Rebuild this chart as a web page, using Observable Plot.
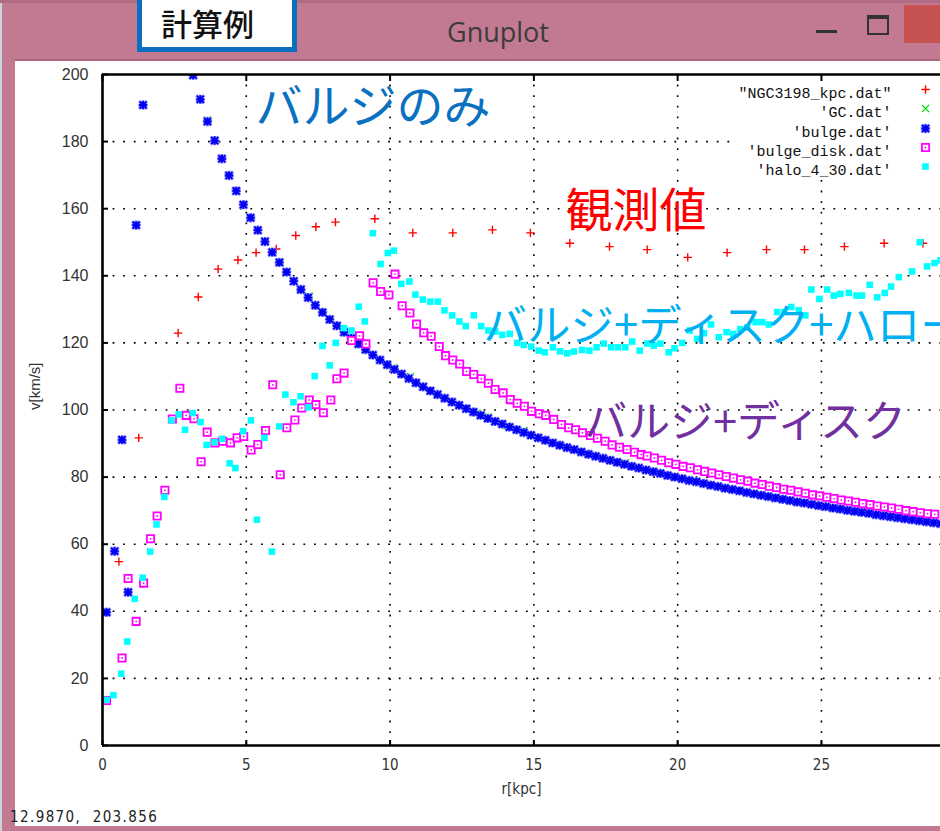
<!DOCTYPE html>
<html><head><meta charset="utf-8">
<script src="https://cdn.jsdelivr.net/npm/d3@7"></script>
<script src="https://cdn.jsdelivr.net/npm/@observablehq/plot@0.6"></script>
<style>
html,body{margin:0;padding:0;overflow:hidden;background:#c27a93;}
#win{position:relative;width:940px;height:831px;background:#c27a93;overflow:hidden;}
#edge{position:absolute;left:0;top:0;width:2px;height:831px;background:#c9d3de;}
#topline{position:absolute;left:0;top:0;width:940px;height:3px;background:#b06c85;}
#clientline{position:absolute;left:15px;top:59px;width:925px;height:2px;background:#a8667f;}
#client{position:absolute;left:15px;top:61px;width:925px;height:765px;background:#fff;}
#title{position:absolute;left:447px;top:14px;font:27px "Open Sans","Noto Sans",sans-serif;color:#3b3b3b;line-height:36px;}
#minb{position:absolute;left:816px;top:30px;width:21px;height:3px;background:#333;}
#maxb{position:absolute;left:867px;top:15px;width:18px;height:14px;border:2px solid #333;border-top-width:4px;}
#closeb{position:absolute;left:904px;top:5px;width:40px;height:38px;background:#c75252;}
#calc{position:absolute;left:137px;top:-8px;width:150px;height:50px;border:5px solid #0b6fbf;background:#fff;}
#calc span{position:absolute;left:19px;top:6px;font:31px "Noto Sans CJK JP",sans-serif;font-weight:500;color:#111;line-height:40px;white-space:nowrap;}
#status{position:absolute;left:10px;top:808px;font:15px "DejaVu Sans Condensed","DejaVu Sans",sans-serif;letter-spacing:1.4px;color:#222;white-space:pre;}
#plot{position:absolute;left:0;top:0;}
</style></head>
<body>
<div id="win">
  <div id="edge"></div>
  <div id="topline"></div>
  <div id="title">Gnuplot</div>
  <div id="minb"></div>
  <div id="maxb"></div>
  <div id="closeb"></div>
  <div id="clientline"></div>
  <div id="client"></div>
  <div id="calc"><span>計算例</span></div>
  <div id="status">12.9870,  203.856</div>
  <div id="plot"></div>
</div>
<script>
// ---------- data ----------
const xTicks = [0, 5, 10, 15, 20, 25];
const yTicks = [0, 20, 40, 60, 80, 100, 120, 140, 160, 180, 200];

const seriesNames = ['"NGC3198_kpc.dat"', "'GC.dat'", "'bulge.dat'", "'bulge_disk.dat'", "'halo_4_30.dat'"];

// NGC3198_kpc.dat (observed)
const obsR = [0.57,1.26,2.63,3.33,4.02,4.71,5.34,6.04,6.72,7.42,8.10,9.47,10.79,12.18,13.56,14.88,16.25,17.63,18.94,20.35,21.72,23.09,24.41,25.80,27.18,28.53];
const obsV = [54.8,91.7,122.9,133.7,142.0,144.7,146.9,148.0,152.0,154.6,156.0,157.0,152.8,152.8,153.7,152.8,149.7,148.7,147.8,145.5,146.9,147.8,147.8,148.7,149.7,149.7];

// GC.dat (mostly hidden under bulge points)
const gcR = [3.65,6.18,7.19,8.90,10.13,10.71,13.02,13.43,14.07,14.65,18.18];
const gcV = [186.4,143.9,133.9,120.2,112.6,110.0,99.1,97.9,95.3,93.9,84.2];

// bulge.dat
const bulgeR = [0.14,0.42,0.68,0.89,1.17,1.41,
  3.15,3.40,3.65,3.90,4.15,4.40,4.65,4.90,5.15,5.40,5.65,5.90,6.15,6.40,6.65,6.90,7.15,7.40,7.65,7.90,8.15,8.40,8.65,8.90,
  9.15,9.40,9.65,9.90,10.15,10.40,10.65,10.90,11.15,11.40,11.65,11.90,12.15,12.40,12.65,12.90,13.15,13.40,13.65,13.90,
  14.15,14.40,14.65,14.90,15.15,15.40,15.65,15.90,16.15,16.40,16.65,16.90,17.15,17.40,17.65,17.90,18.15,18.40,18.65,18.90,
  19.15,19.40,19.65,19.90,20.15,20.40,20.65,20.90,21.15,21.40,21.65,21.90,22.15,22.40,22.65,22.90,23.15,23.40,23.65,23.90,
  24.15,24.40,24.65,24.90,25.15,25.40,25.65,25.90,26.15,26.40,26.65,26.90,27.15,27.40,27.65,27.90,28.15,28.40,28.65,28.90,29.15];
const bulgeV = [39.7,57.9,91.1,45.7,155.1,190.9,
  199.8,192.6,186.0,180.3,174.9,169.9,165.3,161.2,157.3,153.6,150.2,147.0,144.0,141.1,138.4,135.9,133.5,131.2,129.1,127.0,125.1,123.2,121.4,119.7,
  118.0,116.4,114.9,113.5,112.1,110.7,109.4,108.1,106.9,105.7,104.6,103.5,102.4,101.4,100.4,99.4,98.4,97.5,96.6,95.8,
  94.9,94.1,93.3,92.5,91.7,91.0,90.2,89.5,88.8,88.2,87.5,86.8,86.2,85.6,85.0,84.4,83.8,83.2,82.7,82.1,
  81.6,81.1,80.5,80.0,79.5,79.0,78.6,78.1,77.6,77.2,76.7,76.3,75.9,75.4,75.0,74.6,74.2,73.8,73.4,73.0,
  72.6,72.3,71.9,71.5,71.2,70.8,70.5,70.1,69.8,69.5,69.2,68.8,68.5,68.2,67.9,67.6,67.3,67.0,66.7,66.4,66.1];

// bulge_disk.dat
const diskR = [0.14,0.68,0.89,1.17,1.43,1.67,1.90,2.17,2.43,2.69,2.91,3.18,3.43,3.64,3.91,4.18,4.45,4.68,4.91,5.17,
  5.40,5.67,5.92,6.18,6.41,6.69,6.93,7.19,7.42,7.68,7.94,8.15,8.40,8.66,8.94,9.16,9.41,9.67,9.96,10.17,
  10.42,10.69,10.92,11.17,11.43,11.71,11.93,12.18,12.42,12.66,12.91,13.17,13.42,13.65,13.93,14.18,14.42,14.67,14.92,15.19,
  15.41,15.69,15.96,16.21,16.45,16.69,16.97,17.21,17.48,17.72,17.98,18.24,18.50,18.73,18.94,19.19,
  19.44,19.69,19.94,20.19,20.44,20.69,20.94,21.19,21.44,21.69,21.94,22.19,22.44,22.69,22.94,23.19,23.44,23.69,23.94,24.19,
  24.44,24.69,24.94,25.19,25.44,25.69,25.94,26.19,26.44,26.69,26.94,27.19,27.44,27.69,27.94,28.19,28.44,28.69,28.94];
const diskV = [13.4,26.1,49.8,37.0,48.4,61.6,68.4,76.1,97.3,106.5,98.4,97.4,84.6,93.4,90.2,90.7,90.2,91.7,92.1,88.1,
  89.7,93.9,107.5,80.7,94.7,97.0,100.6,103.0,101.6,99.2,103.0,109.3,111.0,120.7,122.1,119.7,137.9,135.3,134.3,140.5,
  131.1,128.9,125.6,123.0,122.0,118.9,116.2,114.9,113.7,111.5,110.6,109.3,108.0,106.1,105.1,103.1,102.0,101.1,99.6,98.9,
  98.4,97.2,95.7,94.7,94.1,93.2,92.4,91.6,90.7,89.6,88.9,88.2,87.4,86.7,86.3,85.7,
  85.0,84.3,83.8,83.2,82.8,82.2,81.7,81.2,80.7,80.2,79.7,79.2,78.8,78.2,77.8,77.3,76.9,76.4,76.1,75.6,
  75.2,74.7,74.4,74.0,73.6,73.2,72.9,72.5,72.1,71.8,71.4,71.1,70.8,70.4,70.0,69.7,69.4,69.1,68.9];

// halo_4_30.dat
const haloR = [0.14,0.38,0.65,0.86,1.12,1.40,1.66,1.88,2.15,2.40,2.65,2.87,3.14,3.41,3.62,3.89,4.16,4.42,4.62,4.89,
  5.16,5.37,5.63,5.89,6.15,6.36,6.64,6.89,7.16,7.38,7.65,7.90,8.11,8.39,8.66,8.91,9.12,9.40,9.67,9.92,
  10.13,10.39,10.67,10.88,11.14,11.40,11.66,11.89,12.16,12.41,12.63,12.91,13.17,13.42,13.66,13.90,14.16,14.42,14.65,14.91,
  15.17,15.38,15.66,15.91,16.16,16.39,16.68,16.93,17.18,17.43,17.69,17.93,18.18,18.42,18.68,18.94,19.17,19.40,19.69,19.89,
  20.16,20.42,20.68,20.91,21.16,21.43,21.70,21.93,22.18,22.42,22.71,22.94,23.17,23.46,23.71,23.95,24.21,24.44,24.65,24.93,
  25.20,25.43,25.66,25.95,26.22,26.41,26.68,26.94,27.20,27.42,27.69,28.15,28.42,28.67,28.93,29.14];
const haloV = [13.6,15.0,21.4,31.0,43.7,50.0,57.8,65.9,74.1,96.9,98.7,94.1,99.1,96.4,89.6,90.4,91.4,84.1,82.7,93.7,
  96.9,67.3,91.7,57.8,95.1,104.6,102.3,104.1,100.8,110.1,119.1,113.3,120.0,124.4,123.7,130.8,126.4,152.7,143.5,146.8,
  147.5,137.6,138.3,134.4,132.9,132.3,132.3,129.7,128.2,126.4,125.0,128.2,125.0,123.7,123.4,122.4,122.7,120.0,119.4,118.9,
  117.7,117.2,118.7,117.5,116.9,117.4,117.9,117.7,118.7,119.8,118.7,118.7,118.7,120.4,117.7,119.8,119.2,119.8,117.2,118.4,
  120.0,123.7,121.2,122.9,125.5,121.7,123.2,122.7,124.1,124.6,126.2,126.2,125.5,129.2,129.2,130.7,129.7,128.2,135.9,133.1,
  135.9,134.1,134.6,134.9,134.1,134.1,137.3,133.6,134.9,136.8,139.6,141.3,150.0,142.8,143.8,144.6];

// annotations (text and the data point each one sits at)
const annotText = ["バルジのみ", "観測値", "バルジ+ディスク+ハロー", "バルジ+ディスク"];
const annotR = [5.32, 16.10, 13.25, 16.75];
const annotV = [189.9, 158.9, 124.6, 96.0];

// ---------- styles ----------
const annotStyle = [
  {fill: "#0a70c0", fontSize: 47},
  {fill: "#ff0000", fontSize: 47},
  {fill: "#00b0f0", fontSize: 43.5},
  {fill: "#7030a0", fontSize: 43}
];

const zip = (R, V) => R.map((r, i) => ({r, v: V[i]}));
const obs = zip(obsR, obsV), gc = zip(gcR, gcV), bulge = zip(bulgeR, bulgeV),
      disk = zip(diskR, diskV), halo = zip(haloR, haloV);
const annots = annotText.map((t, i) => ({t, r: annotR[i], v: annotV[i]}));

// gnuplot-like point symbols
const plusSym = {draw(c, s) { const r = Math.sqrt(s / Math.PI); c.moveTo(-r, 0); c.lineTo(r, 0); c.moveTo(0, -r); c.lineTo(0, r); }};
const timesSym = {draw(c, s) { const r = Math.sqrt(s / Math.PI); c.moveTo(-r, -r); c.lineTo(r, r); c.moveTo(-r, r); c.lineTo(r, -r); }};
const starSym = {draw(c, s) { const r = Math.sqrt(s / Math.PI), d = r * 0.85;
  c.moveTo(-r, 0); c.lineTo(r, 0); c.moveTo(0, -r); c.lineTo(0, r);
  c.moveTo(-d, -d); c.lineTo(d, d); c.moveTo(-d, d); c.lineTo(d, -d); }};

const styles = {
  obs:  {symbol: plusSym, r: 4.2, stroke: "#ff0000", fill: "none", strokeWidth: 1.4},
  gc:   {symbol: timesSym, r: 3.6, stroke: "#00dd00", fill: "none", strokeWidth: 1.3},
  bulgeHalo: {symbol: starSym, r: 4.7, stroke: "#7d7dff", fill: "none", strokeWidth: 2.8},
  bulge: {symbol: starSym, r: 4.0, stroke: "#0000f0", fill: "none", strokeWidth: 1.9},
  disk: {symbol: "square", r: 4.1, stroke: "#ff00ff", fill: "#ffffff", strokeWidth: 1.8},
  diskDot: {r: 0.9, fill: "#ff00ff"},
  halo: {symbol: "square", r: 3.7, fill: "#00ffff", stroke: "none"}
};

const dots = (data, st) => Plot.dot(data, {x: "r", y: "v", clip: true, ...st});
const legendRowDy = [11, 30, 50, 69, 88];
const legendSym = [[styles.obs], [styles.gc], [styles.bulgeHalo, styles.bulge], [styles.disk, styles.diskDot], [styles.halo]];

const legendMarks = seriesNames.flatMap((name, i) => [
  Plot.text([name], {frameAnchor: "top-right", dx: -49, dy: legendRowDy[i] + 2, textAnchor: "end",
    fontSize: 15, fontFamily: "'Liberation Mono','DejaVu Sans Mono',monospace", fill: "#111"}),
  ...legendSym[i].map(st => Plot.dot([0], {frameAnchor: "top-right", dx: -15, dy: legendRowDy[i] + 4, ...st}))
]);

const gridStyle = {stroke: "#000", strokeOpacity: 1, strokeWidth: 1.6, strokeDasharray: "1.8,8.8"};
const narrowFont = "'DejaVu Sans Condensed','Liberation Sans',sans-serif";

const chart = Plot.plot({
  width: 940, height: 831,
  marginLeft: 102, marginRight: 0, marginTop: 74, marginBottom: 86,
  x: {domain: [0, 29.14]},
  y: {domain: [0, 200]},
  style: {background: "transparent", overflow: "visible", fontFamily: "'Liberation Sans',Arial,sans-serif"},
  marks: [
    Plot.gridX(xTicks.filter(d => d > 0), gridStyle),
    Plot.gridY(yTicks.filter(d => d > 0 && d < 200), gridStyle),
    Plot.frame({fill: "#fff", stroke: null, insetLeft: 629, insetBottom: 569}),
    Plot.axisY({ticks: yTicks, tickSize: 0, tickPadding: 14, fontSize: 16, fill: "#333", label: null}),
    Plot.axisX({ticks: xTicks, tickSize: 0, tickPadding: 14, fontSize: 15, fill: "#333", label: null, fontFamily: narrowFont}),
    Plot.tickX(xTicks, {x: d => d, insetBottom: 664, stroke: "#000", strokeWidth: 2}),
    Plot.tickX(xTicks, {x: d => d, insetTop: 666, stroke: "#000", strokeWidth: 2}),
    Plot.tickY(yTicks, {y: d => d, insetRight: 832, stroke: "#000", strokeWidth: 2}),
    Plot.text(["r[kpc]"], {frameAnchor: "bottom", dy: 48, fontSize: 15, fill: "#333", fontFamily: narrowFont}),
    Plot.text(["v[km/s]"], {frameAnchor: "left", dx: -67, rotate: -90, fontSize: 15, fill: "#333"}),
    dots(obs, styles.obs),
    dots(gc, styles.gc),
    dots(bulge, styles.bulgeHalo),
    dots(bulge, styles.bulge),
    dots(disk, styles.disk),
    dots(disk, styles.diskDot),
    dots(halo, styles.halo),
    ...legendMarks,
    Plot.ruleX([0], {stroke: "#000", strokeWidth: 2.6}),
    Plot.ruleY([0, 200], {stroke: "#000", strokeWidth: 2.6}),
    ...annots.map((a, i) => Plot.text([a], {x: "r", y: "v", text: "t", textAnchor: "start", lineAnchor: "middle",
      fontFamily: "'Noto Sans CJK JP',sans-serif", ...annotStyle[i]}))
  ]
});
document.getElementById("plot").appendChild(chart);
</script>
</body></html>
